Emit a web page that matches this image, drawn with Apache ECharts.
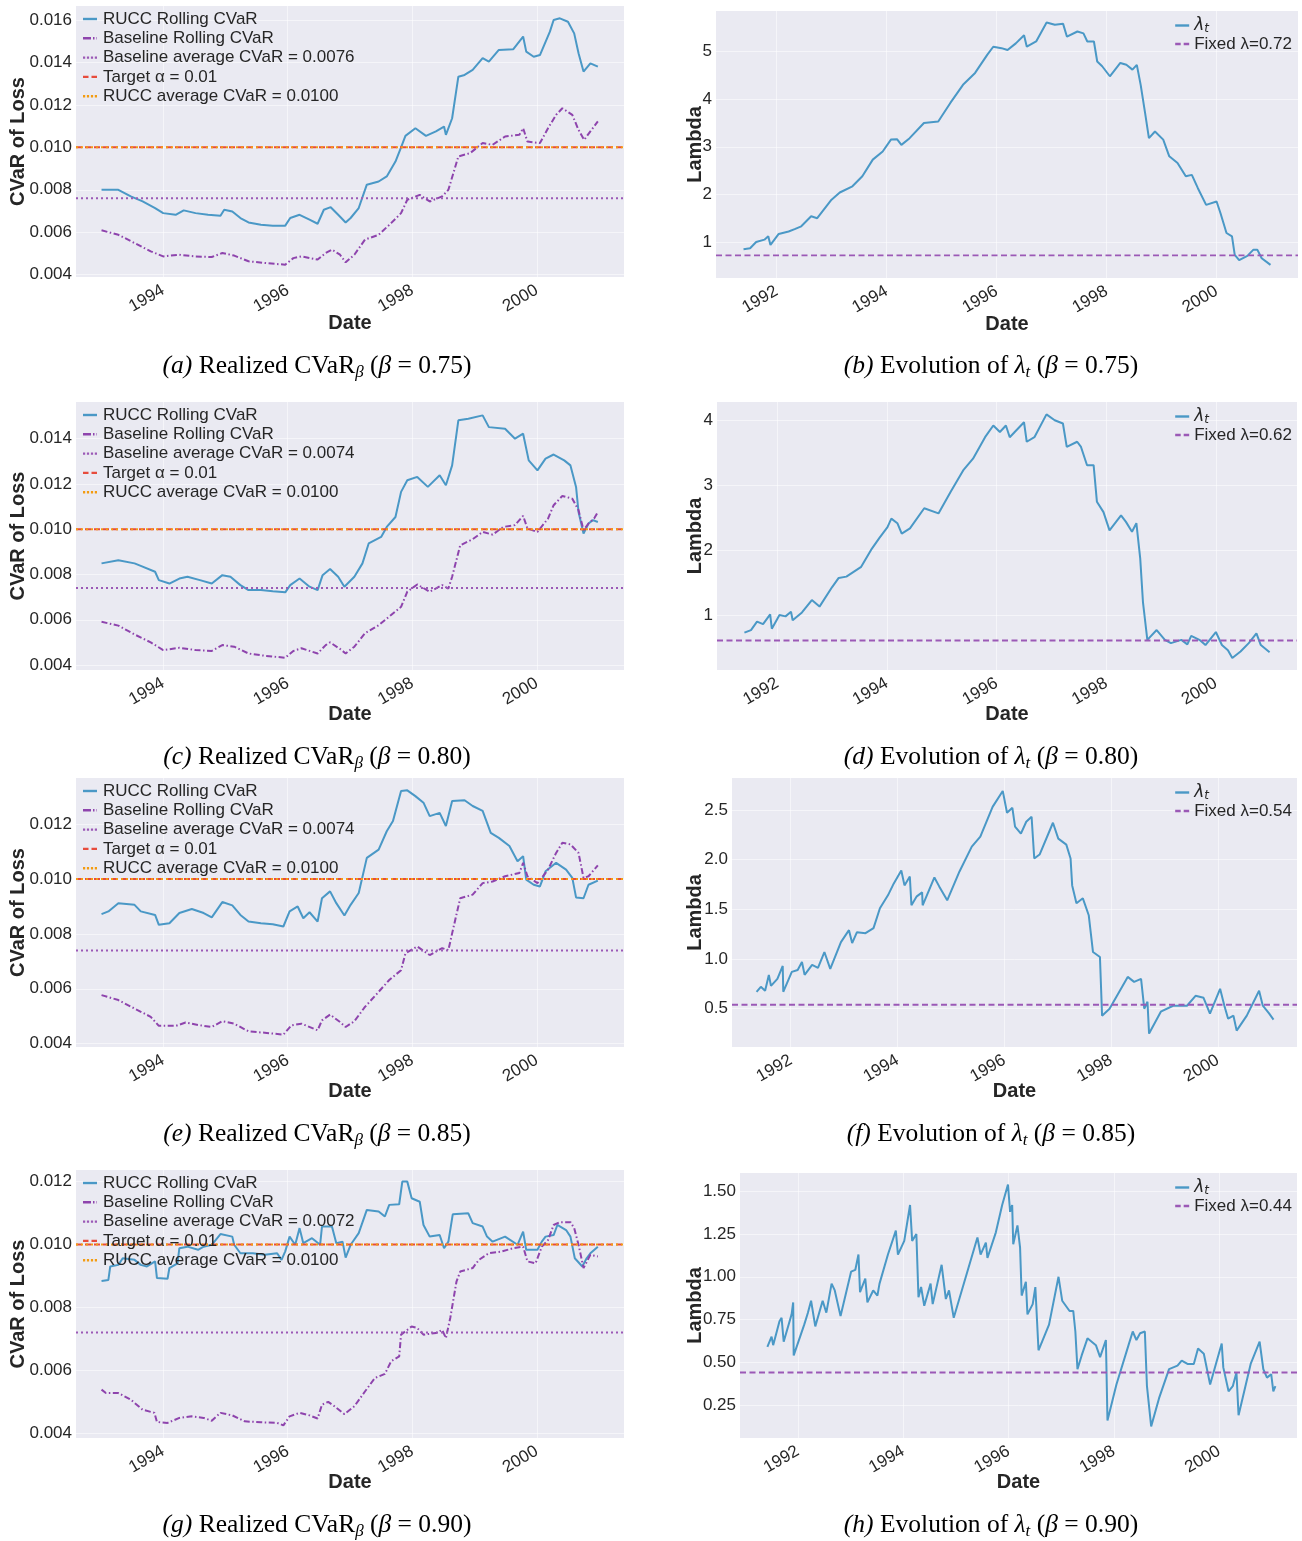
<!DOCTYPE html>
<html><head><meta charset="utf-8">
<script src="https://cdn.jsdelivr.net/npm/echarts@6/dist/echarts.min.js"></script>
<style>html,body{margin:0;padding:0;background:#fff}#c{width:1302px;height:1541px}</style>
</head><body><div id="c"></div>
<script>
// ---------------- DATA ----------------
// Panel (a) beta=0.75
const ruccA = [[1993.01,0.00800],[1993.28,0.00800],[1993.48,0.00769],[1993.67,0.00745],[1993.87,0.00714],[1994.00,0.00690],[1994.20,0.00682],[1994.33,0.00703],[1994.52,0.00690],[1994.72,0.00682],[1994.92,0.00678],[1994.98,0.00706],[1995.11,0.00698],[1995.24,0.00667],[1995.37,0.00646],[1995.57,0.00635],[1995.76,0.00631],[1995.96,0.00631],[1996.04,0.00667],[1996.19,0.00682],[1996.35,0.00659],[1996.48,0.00640],[1996.58,0.00706],[1996.69,0.00718],[1996.81,0.00682],[1996.93,0.00646],[1997.01,0.00667],[1997.14,0.00714],[1997.27,0.00824],[1997.46,0.00839],[1997.59,0.00863],[1997.73,0.00933],[1997.82,0.01000],[1997.89,0.01054],[1998.05,0.01090],[1998.22,0.01054],[1998.38,0.01075],[1998.51,0.01098],[1998.54,0.01059],[1998.64,0.01137],[1998.74,0.01333],[1998.84,0.01341],[1998.97,0.01365],[1999.13,0.01420],[1999.23,0.01404],[1999.39,0.01459],[1999.62,0.01462],[1999.78,0.01522],[1999.83,0.01451],[1999.95,0.01427],[2000.05,0.01435],[2000.21,0.01545],[2000.27,0.01600],[2000.37,0.01608],[2000.50,0.01592],[2000.60,0.01537],[2000.67,0.01443],[2000.75,0.01357],[2000.86,0.01396],[2000.98,0.01380]];
const baseA = [[1993.01,0.00609],[1993.28,0.00588],[1993.54,0.00549],[1993.80,0.00510],[1994.00,0.00486],[1994.26,0.00494],[1994.52,0.00486],[1994.78,0.00483],[1994.95,0.00502],[1995.14,0.00490],[1995.37,0.00463],[1995.63,0.00455],[1995.96,0.00447],[1996.09,0.00478],[1996.22,0.00486],[1996.48,0.00471],[1996.61,0.00502],[1996.71,0.00518],[1996.84,0.00494],[1996.93,0.00458],[1997.07,0.00494],[1997.24,0.00565],[1997.46,0.00588],[1997.66,0.00643],[1997.82,0.00690],[1997.92,0.00753],[1998.12,0.00776],[1998.28,0.00745],[1998.48,0.00769],[1998.58,0.00800],[1998.74,0.00957],[1998.93,0.00973],[1999.13,0.01020],[1999.29,0.01012],[1999.49,0.01051],[1999.72,0.01059],[1999.78,0.01090],[1999.85,0.01027],[2000.05,0.01020],[2000.18,0.01090],[2000.31,0.01153],[2000.41,0.01184],[2000.57,0.01153],[2000.67,0.01082],[2000.76,0.01035],[2000.86,0.01075],[2000.98,0.01122]];
// Panel (b)
const lamB = [[1991.40,0.85],[1991.52,0.87],[1991.63,1.00],[1991.78,1.05],[1991.85,1.12],[1991.89,0.94],[1992.04,1.17],[1992.22,1.22],[1992.33,1.27],[1992.45,1.33],[1992.63,1.54],[1992.74,1.50],[1993.00,1.89],[1993.15,2.04],[1993.38,2.17],[1993.56,2.38],[1993.75,2.73],[1993.93,2.90],[1994.08,3.15],[1994.19,3.16],[1994.27,3.04],[1994.42,3.18],[1994.68,3.50],[1994.94,3.53],[1995.16,3.92],[1995.39,4.30],[1995.61,4.55],[1995.83,4.93],[1995.94,5.10],[1996.09,5.07],[1996.20,5.03],[1996.35,5.17],[1996.50,5.34],[1996.55,5.10],[1996.72,5.21],[1996.91,5.61],[1997.06,5.56],[1997.21,5.58],[1997.28,5.31],[1997.47,5.42],[1997.58,5.38],[1997.65,5.21],[1997.77,5.21],[1997.83,4.79],[1997.92,4.69],[1998.06,4.48],[1998.25,4.76],[1998.36,4.72],[1998.47,4.62],[1998.55,4.72],[1998.62,4.30],[1998.70,3.71],[1998.77,3.18],[1998.88,3.32],[1999.03,3.15],[1999.14,2.80],[1999.29,2.66],[1999.44,2.38],[1999.55,2.41],[1999.66,2.13],[1999.81,1.78],[2000.00,1.85],[2000.07,1.61],[2000.18,1.19],[2000.28,1.12],[2000.33,0.73],[2000.41,0.62],[2000.56,0.71],[2000.67,0.84],[2000.74,0.84],[2000.82,0.66],[2000.98,0.52]];
// Panel (c) beta=0.80
const ruccC = [[1993.01,0.00849],[1993.28,0.00863],[1993.54,0.00849],[1993.64,0.00838],[1993.87,0.00812],[1993.93,0.00775],[1994.10,0.00760],[1994.26,0.00782],[1994.39,0.00790],[1994.59,0.00775],[1994.78,0.00760],[1994.95,0.00797],[1995.08,0.00790],[1995.24,0.00753],[1995.37,0.00731],[1995.57,0.00731],[1995.76,0.00726],[1995.96,0.00721],[1996.04,0.00753],[1996.19,0.00782],[1996.35,0.00746],[1996.48,0.00731],[1996.56,0.00797],[1996.68,0.00824],[1996.81,0.00790],[1996.91,0.00746],[1997.07,0.00790],[1997.20,0.00849],[1997.30,0.00937],[1997.50,0.00966],[1997.59,0.01010],[1997.73,0.01054],[1997.82,0.01165],[1997.92,0.01216],[1998.08,0.01231],[1998.25,0.01187],[1998.44,0.01238],[1998.54,0.01194],[1998.64,0.01282],[1998.74,0.01481],[1998.90,0.01488],[1999.13,0.01503],[1999.23,0.01451],[1999.49,0.01444],[1999.65,0.01400],[1999.78,0.01422],[1999.87,0.01304],[2000.01,0.01260],[2000.14,0.01312],[2000.27,0.01330],[2000.44,0.01304],[2000.54,0.01282],[2000.63,0.01187],[2000.67,0.01076],[2000.75,0.00981],[2000.83,0.01025],[2000.90,0.01040],[2000.98,0.01032]];
const baseC = [[1993.01,0.00591],[1993.28,0.00574],[1993.54,0.00535],[1993.80,0.00500],[1994.00,0.00466],[1994.26,0.00476],[1994.52,0.00466],[1994.78,0.00462],[1994.95,0.00488],[1995.14,0.00481],[1995.37,0.00451],[1995.63,0.00441],[1995.96,0.00432],[1996.09,0.00462],[1996.22,0.00474],[1996.48,0.00451],[1996.61,0.00488],[1996.68,0.00500],[1996.84,0.00471],[1996.93,0.00451],[1997.07,0.00481],[1997.24,0.00540],[1997.46,0.00576],[1997.66,0.00621],[1997.82,0.00657],[1997.92,0.00724],[1998.08,0.00756],[1998.28,0.00724],[1998.48,0.00753],[1998.58,0.00738],[1998.64,0.00790],[1998.77,0.00929],[1998.97,0.00956],[1999.13,0.00988],[1999.29,0.00976],[1999.46,0.01010],[1999.65,0.01018],[1999.78,0.01059],[1999.85,0.01003],[2000.01,0.00988],[2000.18,0.01047],[2000.27,0.01106],[2000.41,0.01147],[2000.57,0.01135],[2000.67,0.01084],[2000.75,0.00996],[2000.83,0.01025],[2000.92,0.01047],[2000.98,0.01076]];
// Panel (d)
const lamD = [[1991.40,0.74],[1991.52,0.78],[1991.63,0.91],[1991.74,0.87],[1991.87,1.02],[1991.90,0.80],[1992.04,1.01],[1992.15,0.99],[1992.25,1.06],[1992.28,0.93],[1992.45,1.05],[1992.63,1.24],[1992.77,1.14],[1993.00,1.44],[1993.12,1.58],[1993.26,1.60],[1993.53,1.75],[1993.71,2.01],[1993.86,2.19],[1994.01,2.36],[1994.08,2.49],[1994.19,2.42],[1994.27,2.26],[1994.42,2.34],[1994.68,2.65],[1994.94,2.57],[1995.16,2.90],[1995.39,3.23],[1995.57,3.41],[1995.79,3.74],[1995.94,3.92],[1996.06,3.82],[1996.17,3.92],[1996.24,3.74],[1996.50,3.97],[1996.55,3.67],[1996.69,3.74],[1996.91,4.09],[1997.06,4.00],[1997.21,3.95],[1997.28,3.59],[1997.47,3.67],[1997.54,3.59],[1997.65,3.31],[1997.77,3.31],[1997.83,2.75],[1997.95,2.59],[1998.06,2.31],[1998.27,2.54],[1998.36,2.44],[1998.47,2.29],[1998.55,2.42],[1998.62,1.88],[1998.67,1.21],[1998.75,0.63],[1998.92,0.78],[1999.07,0.63],[1999.18,0.58],[1999.37,0.63],[1999.48,0.56],[1999.55,0.69],[1999.70,0.63],[1999.81,0.55],[2000.00,0.75],[2000.11,0.55],[2000.22,0.47],[2000.30,0.35],[2000.45,0.45],[2000.60,0.58],[2000.74,0.73],[2000.82,0.55],[2000.98,0.44]];
// Panel (e) beta=0.85
const ruccE = [[1993.01,0.00872],[1993.12,0.00882],[1993.28,0.00912],[1993.54,0.00906],[1993.64,0.00882],[1993.87,0.00869],[1993.93,0.00833],[1994.10,0.00839],[1994.26,0.00876],[1994.46,0.00891],[1994.65,0.00876],[1994.78,0.00860],[1994.95,0.00916],[1995.11,0.00904],[1995.24,0.00869],[1995.37,0.00845],[1995.57,0.00839],[1995.76,0.00835],[1995.93,0.00827],[1996.03,0.00882],[1996.16,0.00900],[1996.25,0.00857],[1996.35,0.00879],[1996.48,0.00845],[1996.55,0.00930],[1996.68,0.00955],[1996.78,0.00912],[1996.91,0.00867],[1997.01,0.00906],[1997.14,0.00949],[1997.27,0.01077],[1997.46,0.01107],[1997.59,0.01174],[1997.69,0.01211],[1997.82,0.01321],[1997.92,0.01323],[1998.05,0.01302],[1998.18,0.01278],[1998.28,0.01229],[1998.44,0.01241],[1998.54,0.01193],[1998.64,0.01284],[1998.84,0.01287],[1998.97,0.01266],[1999.13,0.01248],[1999.26,0.01168],[1999.39,0.01150],[1999.56,0.01120],[1999.69,0.01065],[1999.78,0.01083],[1999.83,0.00998],[1999.95,0.00979],[2000.05,0.00973],[2000.14,0.01028],[2000.31,0.01059],[2000.47,0.01034],[2000.57,0.01004],[2000.63,0.00933],[2000.75,0.00930],[2000.83,0.00979],[2000.98,0.00994]];
const baseE = [[1993.01,0.00577],[1993.28,0.00559],[1993.54,0.00528],[1993.80,0.00498],[1993.93,0.00465],[1994.20,0.00465],[1994.36,0.00477],[1994.59,0.00467],[1994.78,0.00461],[1994.95,0.00482],[1995.14,0.00473],[1995.37,0.00445],[1995.63,0.00440],[1995.93,0.00433],[1996.06,0.00467],[1996.22,0.00473],[1996.48,0.00449],[1996.55,0.00485],[1996.68,0.00506],[1996.84,0.00479],[1996.93,0.00461],[1997.07,0.00482],[1997.24,0.00534],[1997.46,0.00589],[1997.63,0.00632],[1997.82,0.00668],[1997.89,0.00729],[1998.08,0.00754],[1998.28,0.00723],[1998.48,0.00748],[1998.58,0.00741],[1998.64,0.00802],[1998.77,0.00930],[1998.97,0.00943],[1999.13,0.00985],[1999.29,0.00991],[1999.49,0.01010],[1999.72,0.01022],[1999.78,0.01059],[1999.85,0.01010],[2000.01,0.00985],[2000.18,0.01034],[2000.31,0.01095],[2000.41,0.01132],[2000.54,0.01126],[2000.67,0.01095],[2000.75,0.01004],[2000.83,0.01010],[2000.98,0.01050]];
// Panel (f)
const lamF = [[1991.36,0.67],[1991.44,0.72],[1991.52,0.68],[1991.59,0.84],[1991.63,0.73],[1991.75,0.80],[1991.85,0.93],[1991.86,0.67],[1992.02,0.87],[1992.13,0.89],[1992.21,0.97],[1992.26,0.84],[1992.40,0.94],[1992.51,0.91],[1992.63,1.07],[1992.74,0.90],[1992.94,1.17],[1993.09,1.29],[1993.15,1.16],[1993.24,1.27],[1993.40,1.26],[1993.55,1.31],[1993.67,1.51],[1993.82,1.64],[1993.93,1.76],[1994.07,1.89],[1994.13,1.74],[1994.23,1.83],[1994.26,1.54],[1994.36,1.63],[1994.46,1.67],[1994.47,1.54],[1994.69,1.82],[1994.78,1.73],[1994.93,1.59],[1995.16,1.88],[1995.39,2.13],[1995.55,2.23],[1995.78,2.53],[1995.97,2.69],[1996.05,2.47],[1996.15,2.52],[1996.20,2.33],[1996.31,2.26],[1996.41,2.38],[1996.51,2.43],[1996.56,2.01],[1996.66,2.05],[1996.91,2.37],[1997.01,2.21],[1997.16,2.15],[1997.24,2.01],[1997.27,1.74],[1997.35,1.56],[1997.47,1.61],[1997.58,1.44],[1997.66,1.07],[1997.79,1.02],[1997.83,0.43],[1997.97,0.50],[1998.31,0.82],[1998.43,0.77],[1998.56,0.80],[1998.62,0.50],[1998.68,0.57],[1998.71,0.25],[1998.93,0.47],[1999.16,0.53],[1999.42,0.53],[1999.58,0.63],[1999.73,0.61],[1999.85,0.45],[2000.04,0.70],[2000.12,0.53],[2000.19,0.40],[2000.29,0.43],[2000.35,0.28],[2000.54,0.43],[2000.77,0.68],[2000.84,0.53],[2000.96,0.45],[2001.04,0.39]];
// Panel (g) beta=0.90
const ruccG = [[1993.01,0.00884],[1993.12,0.00887],[1993.15,0.00930],[1993.28,0.00935],[1993.35,0.00956],[1993.54,0.00951],[1993.64,0.00935],[1993.74,0.00930],[1993.87,0.00946],[1993.90,0.00893],[1994.07,0.00891],[1994.10,0.00925],[1994.23,0.00940],[1994.26,0.00988],[1994.39,0.00993],[1994.56,0.00983],[1994.65,0.00993],[1994.78,0.00999],[1994.92,0.01033],[1995.11,0.01025],[1995.14,0.00999],[1995.24,0.00972],[1995.44,0.00972],[1995.63,0.00967],[1995.83,0.00972],[1995.90,0.00951],[1995.96,0.00978],[1996.03,0.01025],[1996.12,0.00999],[1996.19,0.01052],[1996.25,0.01004],[1996.39,0.01020],[1996.52,0.00999],[1996.55,0.01057],[1996.71,0.01057],[1996.78,0.01004],[1996.88,0.01009],[1996.93,0.00958],[1997.01,0.00999],[1997.14,0.01036],[1997.27,0.01110],[1997.46,0.01105],[1997.56,0.01089],[1997.63,0.01126],[1997.79,0.01128],[1997.84,0.01200],[1997.92,0.01200],[1997.99,0.01147],[1998.12,0.01136],[1998.18,0.01062],[1998.28,0.01025],[1998.44,0.01030],[1998.51,0.00988],[1998.58,0.01009],[1998.65,0.01096],[1998.90,0.01099],[1998.97,0.01068],[1999.13,0.01057],[1999.20,0.01025],[1999.29,0.01009],[1999.49,0.01025],[1999.69,0.00999],[1999.78,0.01041],[1999.83,0.00983],[2000.01,0.00983],[2000.08,0.01009],[2000.14,0.01025],[2000.27,0.01030],[2000.33,0.01062],[2000.47,0.01046],[2000.54,0.01025],[2000.61,0.00956],[2000.73,0.00930],[2000.80,0.00956],[2000.86,0.00972],[2000.98,0.00993]];
const baseG = [[1993.01,0.00538],[1993.08,0.00527],[1993.28,0.00527],[1993.48,0.00506],[1993.67,0.00474],[1993.86,0.00464],[1993.90,0.00435],[1994.07,0.00432],[1994.26,0.00448],[1994.46,0.00453],[1994.65,0.00448],[1994.78,0.00439],[1994.92,0.00464],[1995.11,0.00456],[1995.31,0.00437],[1995.57,0.00434],[1995.83,0.00432],[1995.93,0.00424],[1996.03,0.00453],[1996.19,0.00464],[1996.35,0.00456],[1996.48,0.00446],[1996.55,0.00490],[1996.65,0.00499],[1996.75,0.00485],[1996.91,0.00460],[1997.07,0.00485],[1997.24,0.00532],[1997.40,0.00575],[1997.56,0.00588],[1997.66,0.00628],[1997.79,0.00644],[1997.82,0.00713],[1997.99,0.00739],[1998.08,0.00734],[1998.18,0.00713],[1998.38,0.00718],[1998.48,0.00728],[1998.54,0.00702],[1998.61,0.00766],[1998.71,0.00882],[1998.77,0.00914],[1998.97,0.00925],[1999.07,0.00951],[1999.23,0.00972],[1999.42,0.00977],[1999.62,0.00988],[1999.78,0.00993],[1999.85,0.00946],[1999.98,0.00940],[2000.08,0.00993],[2000.18,0.01014],[2000.27,0.01062],[2000.37,0.01071],[2000.54,0.01071],[2000.60,0.01052],[2000.67,0.00999],[2000.75,0.00925],[2000.86,0.00967],[2000.98,0.00962]];
// Panel (h)
const lamH = [[1991.42,0.59],[1991.50,0.65],[1991.53,0.60],[1991.65,0.74],[1991.69,0.76],[1991.73,0.62],[1991.88,0.78],[1991.91,0.85],[1991.92,0.54],[1992.12,0.72],[1992.19,0.79],[1992.25,0.86],[1992.33,0.71],[1992.47,0.86],[1992.54,0.79],[1992.64,0.96],[1992.70,0.92],[1992.81,0.77],[1993.01,1.03],[1993.09,1.04],[1993.15,1.13],[1993.18,0.91],[1993.28,0.99],[1993.32,0.85],[1993.43,0.92],[1993.51,0.89],[1993.55,0.96],[1993.71,1.13],[1993.86,1.27],[1993.90,1.13],[1994.02,1.21],[1994.13,1.42],[1994.17,1.21],[1994.25,1.25],[1994.29,0.88],[1994.34,0.94],[1994.40,0.83],[1994.52,0.96],[1994.56,0.84],[1994.73,1.07],[1994.81,0.87],[1994.87,0.92],[1994.96,0.76],[1995.18,0.99],[1995.41,1.23],[1995.47,1.13],[1995.57,1.20],[1995.60,1.11],[1995.76,1.26],[1995.88,1.42],[1995.99,1.54],[1996.03,1.38],[1996.07,1.42],[1996.09,1.19],[1996.17,1.30],[1996.22,1.17],[1996.25,0.89],[1996.33,0.97],[1996.36,0.78],[1996.46,0.84],[1996.51,0.94],[1996.57,0.57],[1996.77,0.72],[1996.95,1.00],[1997.02,0.86],[1997.16,0.80],[1997.23,0.80],[1997.27,0.68],[1997.31,0.46],[1997.39,0.54],[1997.50,0.64],[1997.66,0.60],[1997.74,0.53],[1997.85,0.63],[1997.88,0.16],[1998.05,0.37],[1998.28,0.60],[1998.36,0.68],[1998.43,0.63],[1998.50,0.67],[1998.59,0.68],[1998.63,0.36],[1998.71,0.125],[1998.86,0.29],[1999.05,0.46],[1999.21,0.48],[1999.29,0.51],[1999.40,0.49],[1999.52,0.49],[1999.60,0.58],[1999.71,0.55],[1999.83,0.37],[2000.05,0.61],[2000.08,0.47],[2000.18,0.33],[2000.26,0.36],[2000.33,0.44],[2000.37,0.19],[2000.60,0.49],[2000.77,0.62],[2000.84,0.46],[2000.91,0.41],[2000.99,0.43],[2001.03,0.33],[2001.07,0.36]];

const betas = ['0.75','0.80','0.85','0.90'];
const baselineAvg = [0.0076, 0.0074, 0.0074, 0.0072];
const targetAlpha = 0.01;
const ruccAvg = 0.0100;
const fixedLambda = [0.72, 0.62, 0.54, 0.44];
const xTicksLeft = [1994, 1996, 1998, 2000];
const xTicksRight = [1992, 1994, 1996, 1998, 2000];
const yTicksCvar = [[0.004,0.006,0.008,0.010,0.012,0.014,0.016],[0.004,0.006,0.008,0.010,0.012,0.014],[0.004,0.006,0.008,0.010,0.012],[0.004,0.006,0.008,0.010,0.012]];
const yTicksLam = [[1,2,3,4,5],[1,2,3,4],[0.5,1.0,1.5,2.0,2.5],[0.25,0.50,0.75,1.00,1.25,1.50]];
const lamDecimals = [0,0,1,2];
const letters = [['a','b'],['c','d'],['e','f'],['g','h']];

const ruccSets = [ruccA, ruccC, ruccE, ruccG];
const baseSets = [baseA, baseC, baseE, baseG];
const lamSets = [lamB, lamD, lamF, lamH];

// ---------------- LAYOUT / STYLE ----------------
const X_LEFT = [1992.6, 2001.4];
const X_RIGHT = [1990.9, 2001.48];
const yRangeCvar = [[0.00389,0.01666],[0.00378,0.01562],[0.00388,0.01368],[0.00384,0.01237]];
const yRangeLam = [[0.245,5.85],[0.167,4.28],[0.115,2.82],[0.057,1.607]];
const gridsL = [{left:76,top:6,width:548,height:271},{left:76,top:402,width:548,height:268},{left:76,top:778,width:548,height:269},{left:76,top:1170,width:548,height:268}];
const gridsR = [{left:716,top:11,width:582,height:267},{left:717,top:402,width:580,height:268},{left:732,top:778,width:565,height:269},{left:740,top:1173,width:557,height:265}];
const lamNameGap = [11,12,27,35];
const dateGap = [36,34,34,34];
const captionY = [366,757,1134,1525];

const BLUE = '#4A98C6', PURPLE = '#8E44AD', PURPLE2 = '#9B59B6', RED = '#E74C3C', ORANGE = '#F39C12';
const TXT = '#262626';
const SANS = '"Liberation Sans", Arial, sans-serif';
const SERIF = '"Liberation Serif", "Times New Roman", serif';
const LAMNAME = 'lambda_t';

// legend icon shapes (14 px wide strokes)
const ICON_SOLID = 'path://M0,0H14V2.4H0Z';
const ICON_DASHDOT = 'path://M0,0H8V2.4H0Z M10,0H11.5V2.4H10Z M13.5,0H14V2.4H13.5Z';
const ICON_DOT = 'path://M0,0H2.2V2.4H0Z M3.9,0H6.1V2.4H3.9Z M7.9,0H10.1V2.4H7.9Z M11.8,0H14V2.4H11.8Z';
const ICON_DASH = 'path://M0,0H5.5V2.4H0Z M8.5,0H14V2.4H8.5Z';

const grid = [], xAxis = [], yAxis = [], series = [], legend = [], title = [];

function mkX(gi, range, ticks, gap) {
  return {
    type: 'value', gridIndex: gi, min: range[0], max: range[1],
    name: 'Date', nameLocation: 'middle', nameGap: gap, nameMoveOverlap: false,
    nameTextStyle: {fontFamily: SANS, fontSize: 20, fontWeight: 'bold', color: TXT},
    axisLine: {show: false}, axisTick: {show: false, customValues: ticks},
    axisLabel: {customValues: ticks, rotate: 30, margin: 12, fontFamily: SANS, fontSize: 17, color: TXT,
      formatter: v => String(Math.round(v))},
    splitLine: {show: true, lineStyle: {color: '#ffffff', width: 1, opacity: 0.5}}
  };
}
function mkY(gi, range, ticks, dec, name, gap) {
  return {
    type: 'value', gridIndex: gi, min: range[0], max: range[1],
    name: name, nameLocation: 'middle', nameGap: gap, nameRotate: 90, nameMoveOverlap: false,
    nameTextStyle: {fontFamily: SANS, fontSize: 20, fontWeight: 'bold', color: TXT},
    axisLine: {show: false}, axisTick: {show: false, customValues: ticks},
    axisLabel: {customValues: ticks, margin: 4, fontFamily: SANS, fontSize: 17, color: TXT,
      formatter: v => v.toFixed(dec)},
    splitLine: {show: true, lineStyle: {color: '#ffffff', width: 1, opacity: 0.5}}
  };
}
function hline(name, gi, range, v, color, width, type) {
  return {name, type: 'line', xAxisIndex: gi, yAxisIndex: gi, data: [[range[0], v], [range[1], v]],
    showSymbol: false, symbol: 'none', lineStyle: {color, width, type}, itemStyle: {color}, silent: true};
}

for (let r = 0; r < 4; r++) {
  const gl = 2 * r, gr = 2 * r + 1;
  grid.push(Object.assign({show: true, backgroundColor: '#EAEAF2', borderWidth: 0}, gridsL[r]));
  grid.push(Object.assign({show: true, backgroundColor: '#EAEAF2', borderWidth: 0}, gridsR[r]));
  xAxis.push(mkX(gl, X_LEFT, xTicksLeft, dateGap[r]));
  xAxis.push(mkX(gr, X_RIGHT, xTicksRight, dateGap[r]));
  yAxis.push(mkY(gl, yRangeCvar[r], yTicksCvar[r], 3, 'CVaR of Loss', 48));
  yAxis.push(mkY(gr, yRangeLam[r], yTicksLam[r], lamDecimals[r], 'Lambda', lamNameGap[r]));

  const baseAvgName = 'Baseline average CVaR = ' + baselineAvg[r].toFixed(4);
  series.push({name: 'RUCC Rolling CVaR', type: 'line', xAxisIndex: gl, yAxisIndex: gl, data: ruccSets[r],
    showSymbol: false, symbol: 'none', lineStyle: {color: BLUE, width: 2}, itemStyle: {color: BLUE}});
  series.push({name: 'Baseline Rolling CVaR', type: 'line', xAxisIndex: gl, yAxisIndex: gl, data: baseSets[r],
    showSymbol: false, symbol: 'none', lineStyle: {color: PURPLE, width: 2, type: [6, 2.5, 1.5, 2.5]}, itemStyle: {color: PURPLE}});
  series.push(hline(baseAvgName, gl, X_LEFT, baselineAvg[r], PURPLE2, 2, [2, 3]));
  series.push(hline('Target α = 0.01', gl, X_LEFT, targetAlpha, RED, 2, [6, 3]));
  series.push(hline('RUCC average CVaR = 0.0100', gl, X_LEFT, ruccAvg, ORANGE, 2, [2, 3]));

  const fixName = 'Fixed λ=' + fixedLambda[r].toFixed(2);
  series.push({name: LAMNAME, type: 'line', xAxisIndex: gr, yAxisIndex: gr, data: lamSets[r],
    showSymbol: false, symbol: 'none', lineStyle: {color: BLUE, width: 2}, itemStyle: {color: BLUE}});
  series.push(hline(fixName, gr, X_RIGHT, fixedLambda[r], PURPLE2, 1.8, [6, 3.5]));

  legend.push({orient: 'vertical', left: 83, top: gridsL[r].top + 4.5, padding: 0, itemGap: 2.3,
    itemWidth: 14, itemHeight: 17, selectedMode: false, align: 'left',
    data: [{name: 'RUCC Rolling CVaR', icon: ICON_SOLID}, {name: 'Baseline Rolling CVaR', icon: ICON_DASHDOT},
           {name: baseAvgName, icon: ICON_DOT}, {name: 'Target α = 0.01', icon: ICON_DASH},
           {name: 'RUCC average CVaR = 0.0100', icon: ICON_DOT}],
    textStyle: {fontFamily: SANS, fontSize: 17, color: TXT, padding: [0, 0, 0, 1]}});
  legend.push({orient: 'vertical', right: 10, top: gridsR[r].top + 6, padding: 0, itemGap: 1,
    itemWidth: 14, itemHeight: 17, selectedMode: false, align: 'left',
    data: [{name: LAMNAME, icon: ICON_SOLID}, {name: fixName, icon: ICON_DASH}],
    formatter: n => n === LAMNAME ? '{i|λ}{s|t}' : n,
    textStyle: {fontFamily: SANS, fontSize: 17, color: TXT,
      rich: {i: {fontFamily: '"DejaVu Sans", sans-serif', fontStyle: 'italic', fontSize: 17, color: TXT, lineHeight: 18},
             s: {fontFamily: '"DejaVu Sans", sans-serif', fontStyle: 'italic', fontSize: 12, color: TXT, verticalAlign: 'bottom', lineHeight: 11}}}});

  const richCap = {
    rm: {fontFamily: SERIF, fontSize: 25.5, fontWeight: 'normal', color: '#000', lineHeight: 30},
    it: {fontFamily: SERIF, fontSize: 25.5, fontWeight: 'normal', fontStyle: 'italic', color: '#000', lineHeight: 30},
    sub: {fontFamily: SERIF, fontSize: 17, fontWeight: 'normal', fontStyle: 'italic', color: '#000', verticalAlign: 'bottom', lineHeight: 14}
  };
  title.push({text: '{it|(' + letters[r][0] + ')}{rm| Realized CVaR}{sub|β}{rm| (}{it|β}{rm| = ' + betas[r] + ')}',
    left: 317, top: captionY[r], textAlign: 'center', textVerticalAlign: 'middle', padding: 0,
    textStyle: {fontWeight: 'normal', rich: richCap}});
  title.push({text: '{it|(' + letters[r][1] + ')}{rm| Evolution of }{it|λ}{sub|t}{rm| (}{it|β}{rm| = ' + betas[r] + ')}',
    left: 991, top: captionY[r], textAlign: 'center', textVerticalAlign: 'middle', padding: 0,
    textStyle: {fontWeight: 'normal', rich: richCap}});
}

const chart = echarts.init(document.getElementById('c'), null, {renderer: 'canvas'});
chart.setOption({animation: false, backgroundColor: '#ffffff', grid, xAxis, yAxis, series, legend, title});
</script></body></html>
